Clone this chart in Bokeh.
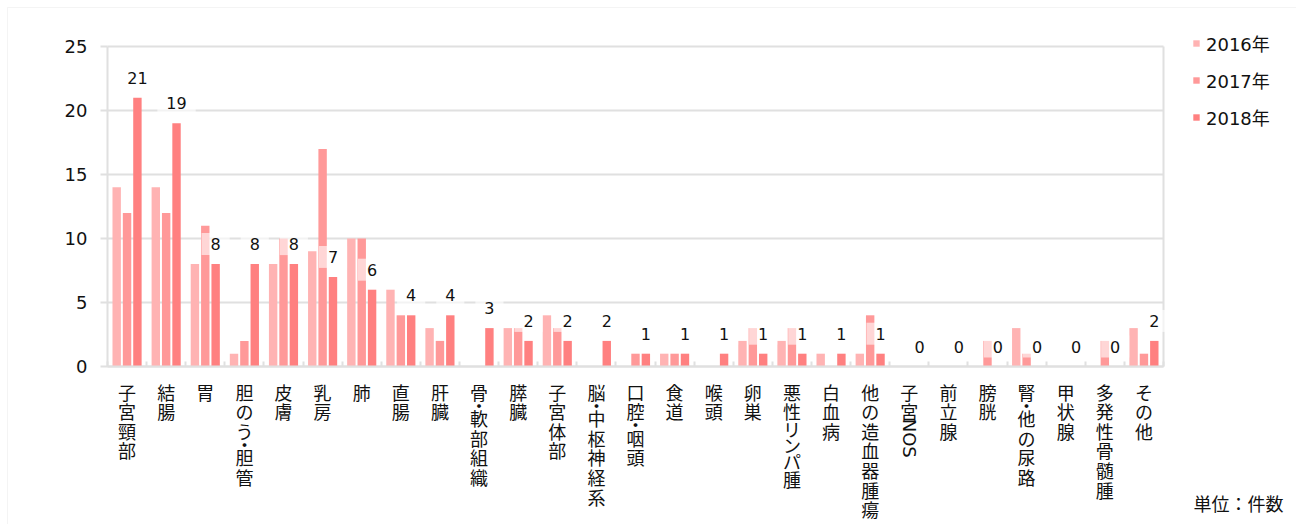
import math
from bokeh.plotting import figure
from bokeh.models import (ColumnDataSource, Label, LabelSet, Legend, LegendItem,
                          FixedTicker, Range1d, LinearAxis, BoxAnnotation)
from bokeh.transform import dodge
from bokeh.embed import file_html
from bokeh.resources import INLINE
from bokeh.core.properties import value

categories = ["子宮頸部", "結腸", "胃", "胆のう・胆管", "皮膚", "乳房", "肺", "直腸", "肝臓",
              "骨・軟部組織", "膵臓", "子宮体部", "脳・中枢神経系", "口腔・咽頭", "食道", "喉頭",
              "卵巣", "悪性リンパ腫", "白血病", "他の造血器腫瘍", "子宮NOS", "前立腺", "膀胱",
              "腎・他の尿路", "甲状腺", "多発性骨髄腫", "その他"]
years = ["2016年", "2017年", "2018年"]
v2016 = [14, 14, 8, 1, 8, 9, 10, 6, 3, 0, 3, 4, 0, 0, 1, 0, 2, 2, 1, 1, 0, 0, 0, 3, 0, 0, 3]
v2017 = [12, 12, 11, 2, 10, 17, 10, 4, 2, 0, 3, 3, 0, 1, 1, 0, 3, 3, 0, 4, 0, 0, 2, 1, 0, 2, 1]
v2018 = [21, 19, 8, 8, 8, 7, 6, 4, 4, 3, 2, 2, 2, 1, 1, 1, 1, 1, 1, 1, 0, 0, 0, 0, 0, 0, 2]
y_ticks = [0, 5, 10, 15, 20, 25]
y_max = 25
unit_text = "単位：件数"

colors = ["#FFB3B3", "#FF9999", "#FF8080"]
offsets = [-0.265, 0.0, 0.265]
LAT = "'DejaVu Sans', 'Noto Sans CJK JP'"
JP = "'Noto Sans CJK JP'"
GRID = "#E0E0E0"
TXT = "#111111"

n = len(categories)
xc = [i + 0.5 for i in range(n)]

# layout (pixels): canvas 1296x524, plot area x 107..1163, y 46..366
W, H = 1296, 524
PL, PR, PT, PB = 107, 1163, 46, 366
sx = (PR - PL) / n
sy = (PB - PT) / y_max
x_range = Range1d(-PL / sx, (W - PL) / sx)
y_range = Range1d(-(H - PB) / sy, PB / sy)

p = figure(width=W, height=H, x_range=x_range, y_range=y_range,
           output_backend="svg", toolbar_location=None,
           min_border_left=0, min_border_right=0, min_border_top=0, min_border_bottom=0,
           x_axis_location=None, y_axis_location=None,
           background_fill_color="white", border_fill_color="white")
p.outline_line_color = None
p.xgrid.visible = False

# axes drawn at fixed data locations
yax = LinearAxis(fixed_location=0, bounds=(0, y_max), ticker=FixedTicker(ticks=y_ticks))
yax.axis_line_color = GRID
yax.axis_line_width = 2
yax.major_tick_line_color = GRID
yax.major_tick_line_width = 2
yax.major_tick_out = 7
yax.major_tick_in = 0
yax.minor_tick_line_color = None
yax.major_label_standoff = 13
yax.major_label_text_font = LAT
yax.major_label_text_font_size = "18px"
yax.major_label_text_color = TXT
p.add_layout(yax, "left")

xax = LinearAxis(fixed_location=0, bounds=(0, n), ticker=FixedTicker(ticks=list(range(0, n + 1))))
xax.major_label_overrides = {i: "" for i in range(0, n + 1)}
xax.major_label_text_font_size = "0px"
xax.axis_line_color = GRID
xax.axis_line_width = 2
xax.major_tick_line_color = GRID
xax.major_tick_line_width = 2
xax.major_tick_in = 5
xax.major_tick_out = 0
xax.minor_tick_line_color = None
p.add_layout(xax, "below")

rax = LinearAxis(fixed_location=n, bounds=(0, y_max), ticker=FixedTicker(ticks=[]))
rax.axis_line_color = GRID
rax.axis_line_width = 2
rax.major_tick_line_color = None
rax.minor_tick_line_color = None
rax.major_label_text_font_size = "0px"
p.add_layout(rax, "right")

p.ygrid.ticker = FixedTicker(ticks=y_ticks)
p.ygrid.grid_line_color = GRID
p.ygrid.grid_line_width = 2
p.ygrid.cross_bounds = (0, n)

# outer chart border (left and top edges)
p.add_layout(BoxAnnotation(left=(7 - PL) / sx, right=(W + 20 - PL) / sx,
                           top=(PB - 7) / sy, bottom=-(H + 20 - PB) / sy,
                           fill_alpha=0, line_color="#D9D9D9", line_width=1, level="underlay"))

src = ColumnDataSource(dict(x=xc, y2016=v2016, y2017=v2017, y2018=v2018))
renderers = []
for k, col in enumerate(["y2016", "y2017", "y2018"]):
    r = p.vbar(x=dodge("x", offsets[k], range=p.x_range), top=col, width=0.215,
               source=src, fill_color=colors[k], line_color=None)
    renderers.append(r)

# value labels for 2018 (white translucent box)
for i, v in enumerate(v2018):
    p.add_layout(Label(x=xc[i] + offsets[2], y=v, y_offset=20, text=str(v),
                       text_align="center", text_baseline="middle",
                       text_font=LAT, text_font_size="16px", text_color=TXT,
                       background_fill_color="white", background_fill_alpha=0.6,
                       padding=(9, 5)))

# vertical category labels (one character per line)
pitch = 19.6
kana_pitch = 16.2
dot_gap = 7
top0 = 12
cx, coff, ctxt = [], [], []
for i, name in enumerate(categories):
    y = top0
    k = 0
    while k < len(name):
        ch = name[k]
        if ch == "・":
            # middle dot occupies a short slot; its em box is centred on the slot
            cx.append(xc[i]); coff.append(-(y + 2.5 - 9)); ctxt.append(ch)
            y += dot_gap
            k += 1
        elif ch.isascii():
            run = ""
            while k < len(name) and name[k].isascii():
                run += name[k]
                k += 1
            p.add_layout(Label(x=xc[i], y=0, y_offset=-(y + 1), text=run,
                               angle=-math.pi / 2, text_align="left", text_baseline="middle",
                               text_font=LAT, text_font_size="18px", text_color=TXT))
            y += 40
        else:
            step = kana_pitch if "\u30a0" <= ch <= "\u30ff" else pitch
            cx.append(xc[i]); coff.append(-(y + (step - pitch) / 2)); ctxt.append(ch)
            y += step
            k += 1

csrc = ColumnDataSource(dict(x=cx, y=[0] * len(cx), off=coff, t=ctxt))
p.add_layout(LabelSet(x="x", y="y", y_offset="off", text="t", source=csrc,
                      text_align="center", text_baseline="top",
                      text_font=value(JP), text_font_size="18px", text_color=TXT))

p.add_layout(Label(x=n, y=0, x_offset=30, y_offset=-136.5, text=unit_text,
                   text_align="left", text_baseline="middle",
                   text_font=JP, text_font_size="18px", text_color=TXT))

legend = Legend(items=[LegendItem(label=years[k], renderers=[renderers[k]]) for k in range(3)],
                location=(1192, 394.5), glyph_width=8, glyph_height=8, label_standoff=6,
                label_height=26, spacing=11, padding=0, margin=0,
                border_line_color=None, background_fill_alpha=0,
                label_text_font=LAT, label_text_font_size="18px", label_text_color=TXT)
p.add_layout(legend, "center")

open("out.html", "w").write(file_html(p, INLINE))
